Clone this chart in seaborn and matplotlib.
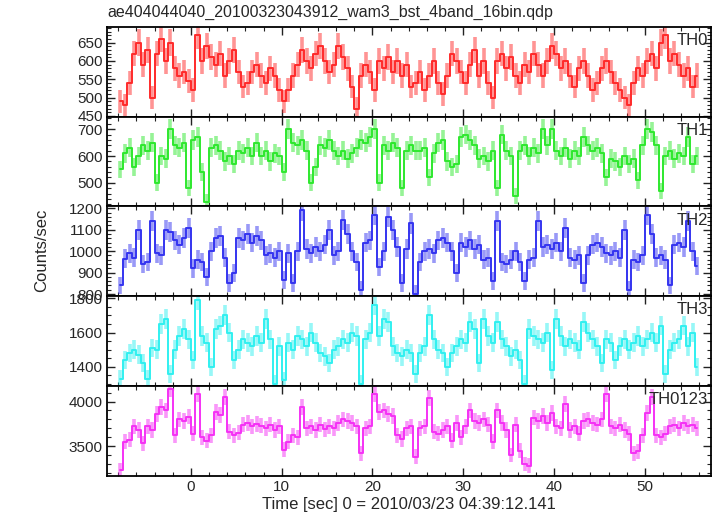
import numpy as np
import matplotlib
matplotlib.use("Agg")
import matplotlib.pyplot as plt
from matplotlib.ticker import MultipleLocator
import seaborn as sns

# light curve, 0.5 s bins starting at t = -8 s
BIN = 0.5
T_START = -8.0

th0 = [490, 480, 540, 620, 650, 590, 630, 500, 620, 660, 600, 650, 580, 560, 570, 545,
       520, 670, 600, 640, 610, 590, 620, 560, 600, 630, 570, 530, 540, 570, 590, 560,
       540, 580, 560, 520, 490, 520, 560, 590, 630, 600, 580, 620, 640, 600, 570, 590,
       640, 610, 580, 530, 470, 560, 590, 570, 520, 600, 580, 610, 570, 600, 560, 590,
       530, 540, 570, 520, 560, 600, 540, 510, 560, 620, 600, 570, 540, 590, 630, 560,
       600, 540, 500, 600, 620, 580, 610, 560, 540, 590, 570, 620, 590, 560, 600, 640,
       620, 580, 600, 560, 530, 580, 600, 560, 520, 540, 580, 600, 570, 540, 520, 500,
       480, 540, 580, 560, 600, 620, 580, 650, 670, 600, 620, 590, 560, 580, 530, 560]

th1 = [550, 610, 630, 560, 600, 640, 620, 650, 500, 600, 590, 700, 640, 630, 650, 480,
       660, 670, 540, 430, 630, 640, 620, 580, 600, 570, 620, 610, 630, 600, 650, 600,
       620, 580, 610, 600, 540, 700, 650, 640, 660, 620, 500, 560, 640, 630, 660, 620,
       600, 620, 590, 610, 630, 660, 650, 670, 700, 500, 640, 620, 650, 630, 480, 620,
       640, 620, 620, 630, 520, 610, 650, 660, 580, 560, 570, 670, 680, 660, 640, 590,
       600, 580, 620, 480, 680, 620, 600, 450, 620, 640, 600, 630, 610, 700, 640, 700,
       620, 600, 630, 590, 620, 600, 670, 640, 620, 630, 610, 520, 590, 580, 560, 600,
       570, 590, 510, 640, 700, 690, 640, 470, 600, 620, 590, 610, 600, 670, 570, 600]

th2 = [840, 965, 990, 970, 1100, 940, 950, 1140, 990, 980, 1100, 1090, 1050, 1030, 1060, 1110,
       920, 960, 950, 880, 1000, 1060, 1070, 970, 850, 900, 1060, 1050, 1080, 1040, 1070, 1050,
       980, 990, 970, 1000, 865, 990, 850, 1000, 1190, 1010, 990, 1020, 1000, 1030, 1100, 980,
       1000, 1145, 1080, 1000, 950, 820, 1040, 1050, 1170, 925, 1000, 1160, 1100, 1020, 850, 1010,
       1130, 800, 950, 1000, 1010, 990, 1050, 1060, 1040, 1000, 900, 1040, 1020, 1050, 1010, 1030,
       960, 970, 860, 1140, 950, 940, 960, 1000, 950, 860, 960, 970, 1140, 1020, 1030, 1010,
       1040, 1000, 1110, 970, 960, 980, 850, 980, 1030, 1040, 1020, 990, 980, 1000, 970, 1100,
       820, 960, 950, 980, 1170, 1080, 970, 980, 960, 840, 1030, 1040, 1020, 1140, 1000, 930]

th3 = [1330, 1440, 1480, 1500, 1470, 1420, 1330, 1510, 1500, 1650, 1680, 1360, 1500, 1580, 1620, 1560,
       1440, 1790, 1580, 1540, 1400, 1620, 1640, 1700, 1600, 1440, 1500, 1560, 1540, 1520, 1580, 1540,
       1680, 1560, 1300, 1520, 1320, 1540, 1500, 1580, 1560, 1520, 1600, 1540, 1480, 1460, 1420, 1500,
       1520, 1560, 1540, 1600, 1580, 1300, 1560, 1600, 1760, 1580, 1680, 1660, 1520, 1480, 1460, 1500,
       1480, 1360, 1480, 1520, 1700, 1560, 1500, 1480, 1400, 1480, 1520, 1560, 1540, 1660, 1620, 1420,
       1680, 1580, 1540, 1660, 1560, 1520, 1460, 1500, 1440, 1300, 1620, 1580, 1560, 1540, 1600, 1380,
       1680, 1580, 1520, 1560, 1540, 1500, 1660, 1600, 1560, 1520, 1420, 1560, 1540, 1440, 1520, 1560,
       1500, 1540, 1580, 1520, 1560, 1600, 1540, 1640, 1360, 1500, 1540, 1560, 1640, 1520, 1600, 1400]

th0123 = [3230, 3550, 3570, 3720, 3680, 3530, 3720, 3680, 3860, 3940, 3900, 4140, 3620, 3800, 3780, 3830,
          3640, 4080, 3600, 3560, 3620, 3880, 3850, 4050, 3660, 3620, 3650, 3740, 3760, 3720, 3750, 3730,
          3700, 3740, 3680, 3720, 3460, 3550, 3620, 3600, 3940, 3700, 3720, 3680, 3740, 3690, 3720, 3700,
          3760, 3800, 3780, 3760, 3720, 3420, 3700, 3720, 4080, 3880, 3900, 3860, 3840, 3620, 3580, 3700,
          3720, 3380, 3700, 3720, 4040, 3660, 3640, 3680, 3720, 3560, 3760, 3600, 3720, 3900, 3780, 3760,
          3800, 3740, 3550, 3900, 3760, 3680, 3400, 3740, 3450, 3300, 3280, 3820, 3780, 3840, 3760, 3870,
          3720, 3700, 3970, 3680, 3720, 3640, 3780, 3800, 3760, 3740, 3800, 4080, 3720, 3700, 3740, 3680,
          3640, 3420, 3440, 3620, 3870, 4050, 3620, 3600, 3640, 3720, 3740, 3700, 3760, 3720, 3740, 3700]

bands = ["TH0", "TH1", "TH2", "TH3", "TH0123"]
series = [th0, th1, th2, th3, th0123]
colors = ["#ff2a2a", "#2ee82e", "#3434f0", "#30f0f0", "#f531f5"]
ylims = [(448, 693), (412, 747), (790, 1209), (1288, 1812), (3167, 4175)]
yticks = [(50, 10), (100, 20), (100, 20), (200, 50), (500, 100)]

sns.set_theme(style="ticks")
plt.rcParams['font.family'] = ['Liberation Sans', 'DejaVu Sans']

fig, axes = plt.subplots(5, 1, sharex=True, figsize=(7.17, 5.16), dpi=100)
fig.subplots_adjust(left=0.149, right=0.992, top=0.948, bottom=0.078, hspace=0)

t = T_START + BIN / 2 + BIN * np.arange(len(th0))

for ax, name, rate, c, lim, (maj, mnr) in zip(axes, bands, series, colors, ylims, yticks):
    rate = np.asarray(rate, dtype=float)
    err = np.sqrt(rate * BIN) / BIN  # poisson error on count rate
    ax.errorbar(t, rate, yerr=err, fmt='none', ecolor=c, elinewidth=2.6, alpha=0.5)
    sns.lineplot(x=t, y=rate, ax=ax, color=c, drawstyle='steps-mid', linewidth=1.4)
    ax.set_ylim(lim)
    ax.yaxis.set_major_locator(MultipleLocator(maj))
    ax.yaxis.set_minor_locator(MultipleLocator(mnr))
    ax.tick_params(which='both', direction='in', top=True, right=True, labelsize=11, pad=3)
    ax.tick_params(which='major', length=6, width=1, color='#222222')
    ax.tick_params(which='minor', length=3, width=0.8, color='#222222')
    for s in ax.spines.values():
        s.set_linewidth(1.3)
        s.set_color('black')
    ax.set_ylabel("")
    ax.text(0.995, 0.93, name, transform=ax.transAxes, ha='right', va='top', fontsize=12)

axes[-1].set_xlim(-9.25, 57.3)
axes[-1].xaxis.set_major_locator(MultipleLocator(10))
axes[-1].xaxis.set_minor_locator(MultipleLocator(2))
axes[-1].set_xlabel("Time [sec] 0 = 2010/03/23 04:39:12.141", fontsize=12, labelpad=2)

fig.text(42 / 717, 1 - 250 / 516, "Counts/sec", rotation=90, ha='center', va='center', fontsize=12)
fig.text(107 / 717, 1 - 12 / 516, "ae404044040_20100323043912_wam3_bst_4band_16bin.qdp",
         ha='left', va='center', fontsize=11.5)

fig.savefig("out.png", dpi=100)
